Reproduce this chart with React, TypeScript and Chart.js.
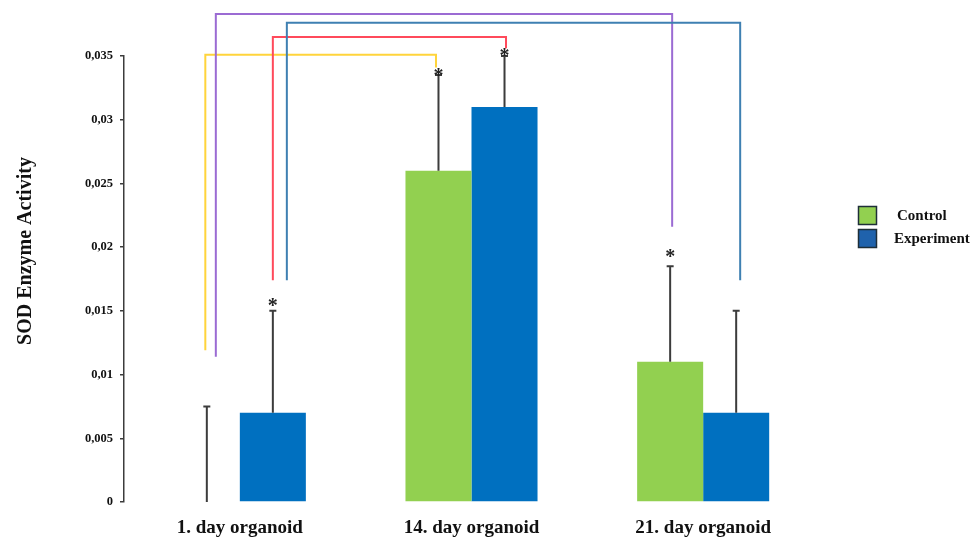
import React, { useEffect, useRef } from 'react';
import { Chart, registerables } from 'chart.js';

Chart.register(...registerables);

// ---------- data ----------
const categories = ['1. day organoid', '14. day organoid', '21. day organoid'];
const seriesNames = ['Control', 'Experiment'];
const controlValues = [0, 0.026, 0.011];
const experimentValues = [0.007, 0.031, 0.007];
const controlErrorTop = [0.0075, 0.0335, 0.0185];
const experimentErrorTop = [0.015, 0.035, 0.015];
// level (in data units) of the significance asterisk, null = none
const controlStarLevels = [null, 0.03375, 0.01957];
const experimentStarLevels = [0.01573, 0.03534, null];
const yTickLabels = ['0', '0,005', '0,01', '0,015', '0,02', '0,025', '0,03', '0,035'];
const yAxisTitle = 'SOD Enzyme Activity';

// significance brackets: from (series, category, value) up to top value, across to (series, category, value)
const bracketFromSeries = [0, 0, 1, 1];
const bracketFromCategory = [0, 0, 0, 0];
const bracketFromValue = [0.0119, 0.0114, 0.0174, 0.0174];
const bracketTopValue = [0.0351, 0.0383, 0.0365, 0.0376];
const bracketToSeries = [0, 0, 1, 1];
const bracketToCategory = [1, 2, 1, 2];
const bracketToValue = [0.0341, 0.0216, 0.0356, 0.0174];

// ---------- styles ----------
const seriesColors = ['#92D050', '#0070C0'];
const legendBoxColors = ['#92D050', '#1F62AC'];
const bracketColors = ['#FFD43B', '#9B6BD3', '#FF4A5B', '#3F80B2'];
const bracketFromDx = [-1.5, 9, 0, 14];
const bracketToDx = [-2.5, 2, 1.5, 4];
const FONT = '"Liberation Serif", "Times New Roman", serif';

export default function App() {
  const ref = useRef<HTMLCanvasElement>(null);

  useEffect(() => {
    const canvas = ref.current;
    if (!canvas) return;

    const errorTops = [controlErrorTop, experimentErrorTop];
    const starLevels = [controlStarLevels, experimentStarLevels];

    const overlay = {
      id: 'overlay',
      afterDatasetsDraw(chart: any) {
        const ctx = chart.ctx;
        const ys = chart.scales.y;
        ctx.save();
        // error bars
        for (let d = 0; d < 2; d++) {
          const meta = chart.getDatasetMeta(d);
          meta.data.forEach((el: any, i: number) => {
            const x = el.x;
            const yBase = ys.getPixelForValue((d === 0 ? controlValues : experimentValues)[i]);
            const yTop = ys.getPixelForValue(errorTops[d][i]);
            ctx.strokeStyle = '#3C3C3C';
            ctx.lineWidth = 2;
            ctx.beginPath();
            ctx.moveTo(x, yBase);
            ctx.lineTo(x, yTop);
            ctx.moveTo(x - 3.5, yTop);
            ctx.lineTo(x + 3.5, yTop);
            ctx.stroke();
            const sl = starLevels[d][i];
            if (sl !== null && sl !== undefined) {
              const sy = ys.getPixelForValue(sl);
              ctx.fillStyle = '#222';
              ctx.font = 'bold 20px ' + FONT;
              ctx.textAlign = 'center';
              ctx.textBaseline = 'alphabetic';
              ctx.fillText('*', x, sy + 10);
            }
          });
        }
        ctx.restore();
      },
      afterDraw(chart: any) {
        const ctx = chart.ctx;
        const ys = chart.scales.y;
        ctx.save();
        // brackets
        for (let b = 0; b < bracketColors.length; b++) {
          const elFrom = chart.getDatasetMeta(bracketFromSeries[b]).data[bracketFromCategory[b]];
          const elTo = chart.getDatasetMeta(bracketToSeries[b]).data[bracketToCategory[b]];
          const x1 = elFrom.x + bracketFromDx[b];
          const x2 = elTo.x + bracketToDx[b];
          const y1 = ys.getPixelForValue(bracketFromValue[b]);
          const yt = ys.getPixelForValue(bracketTopValue[b]);
          const y2 = ys.getPixelForValue(bracketToValue[b]);
          ctx.strokeStyle = bracketColors[b];
          ctx.lineWidth = 2;
          ctx.lineJoin = 'miter';
          ctx.beginPath();
          ctx.moveTo(x1, y1);
          ctx.lineTo(x1, yt);
          ctx.lineTo(x2, yt);
          ctx.lineTo(x2, y2);
          ctx.stroke();
        }
        // y-axis title
        ctx.save();
        ctx.translate(26, 251);
        ctx.rotate(-Math.PI / 2);
        ctx.fillStyle = '#111';
        ctx.font = 'bold 20px ' + FONT;
        ctx.textAlign = 'center';
        ctx.textBaseline = 'middle';
        ctx.fillText(yAxisTitle, 0, 0);
        ctx.restore();
        // legend
        for (let s = 0; s < seriesNames.length; s++) {
          const bx = 858.5;
          const by = 206.5 + s * 23;
          ctx.fillStyle = legendBoxColors[s];
          ctx.fillRect(bx, by, 18, 18);
          ctx.strokeStyle = '#1E2E38';
          ctx.lineWidth = 1.5;
          ctx.strokeRect(bx, by, 18, 18);
          ctx.fillStyle = '#111';
          ctx.font = 'bold 15px ' + FONT;
          ctx.textAlign = 'left';
          ctx.textBaseline = 'middle';
          ctx.fillText(seriesNames[s], s === 0 ? 897 : 894, by + 9.5);
        }
        ctx.restore();
      },
    };

    const chart = new Chart(canvas, {
      type: 'bar',
      data: {
        labels: categories,
        datasets: [
          {
            label: seriesNames[0],
            data: controlValues,
            backgroundColor: seriesColors[0],
            borderWidth: 0,
            barPercentage: 1,
            categoryPercentage: 0.57,
          },
          {
            label: seriesNames[1],
            data: experimentValues,
            backgroundColor: seriesColors[1],
            borderWidth: 0,
            barPercentage: 1,
            categoryPercentage: 0.57,
          },
        ],
      },
      options: {
        responsive: false,
        animation: false,
        layout: { padding: { top: 56, right: 154, bottom: 0, left: 0 } },
        plugins: {
          legend: { display: false },
          tooltip: { enabled: false },
          title: { display: false },
        },
        scales: {
          x: {
            grid: { display: false, drawTicks: false },
            border: { display: false },
            ticks: {
              color: '#111',
              font: { family: FONT, size: 19, weight: 'bold' },
              padding: 15,
              maxRotation: 0,
              autoSkip: false,
            },
            afterFit: (scale: any) => {
              scale.height = 38;
            },
          },
          y: {
            min: 0,
            max: 0.035,
            grid: { display: true, drawOnChartArea: false, drawTicks: true, tickLength: 4, color: '#3C3C3C', lineWidth: 1.5 },
            border: { display: true, color: '#3C3C3C', width: 1.5 },
            ticks: {
              stepSize: 0.005,
              color: '#111',
              font: { family: FONT, size: 12.5, weight: 'bold' },
              padding: 7,
              callback: (_v: any, i: number) => yTickLabels[i],
            },
            afterFit: (scale: any) => {
              scale.width = 124;
            },
          },
        },
      },
      plugins: [overlay],
    } as any);

    return () => chart.destroy();
  }, []);

  return (
    <div style={{ position: 'absolute', left: 0, top: 0, width: 973, height: 540, background: '#fff' }}>
      <canvas ref={ref} width={973} height={540} style={{ display: 'block' }} />
    </div>
  );
}
